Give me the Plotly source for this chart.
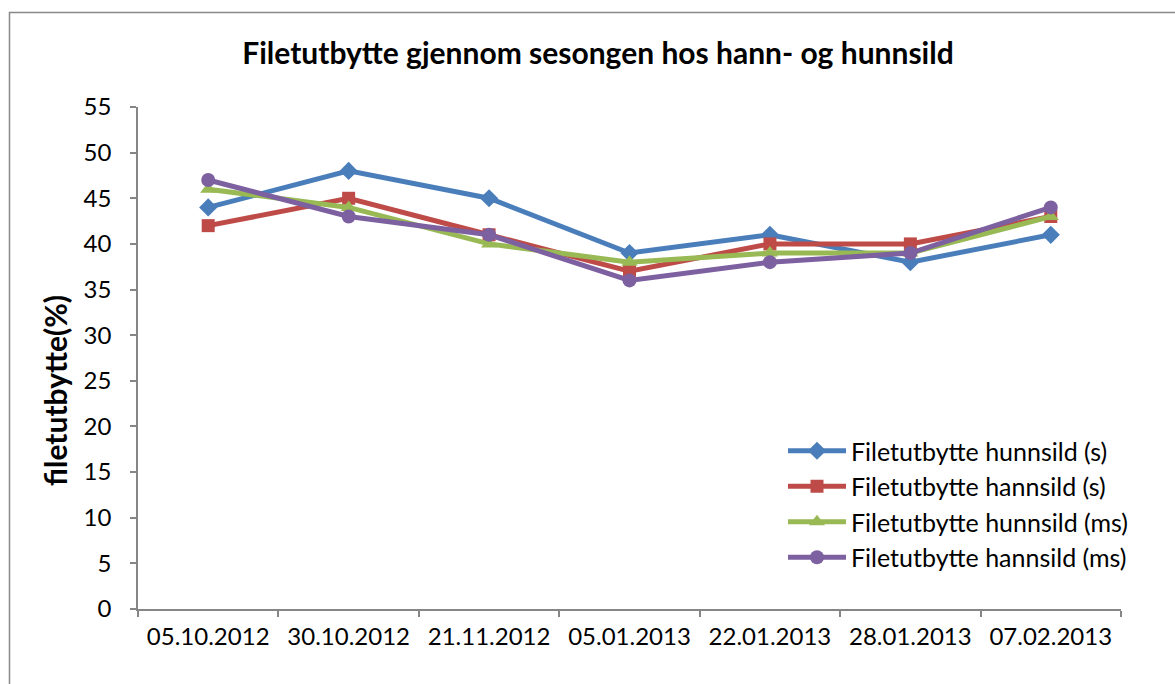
import plotly.graph_objects as go

categories = ["05.10.2012", "30.10.2012", "21.11.2012", "05.01.2013", "22.01.2013", "28.01.2013", "07.02.2013"]
hunnsild_s = [44, 48, 45, 39, 41, 38, 41]
hannsild_s = [42, 45, 41, 37, 40, 40, 43]
hunnsild_ms = [46, 44, 40, 38, 39, 39, 43]
hannsild_ms = [47, 43, 41, 36, 38, 39, 44]
y_ticks = list(range(0, 56, 5))

series = [
    ("Filetutbytte hunnsild (s)", hunnsild_s, "#4A7EBB", "diamond", 14),
    ("Filetutbytte hannsild (s)", hannsild_s, "#BE4B48", "square", 13),
    ("Filetutbytte hunnsild (ms)", hunnsild_ms, "#98B954", "triangle-up", 14),
    ("Filetutbytte hannsild (ms)", hannsild_ms, "#7D60A0", "circle", 14),
]

FONT = "Lato"
W, H = 1175, 684
L, R, T, B = 138, 54, 107, 75

fig = go.Figure()
for name, vals, color, sym, size in series:
    fig.add_trace(go.Scatter(
        x=categories, y=vals, name=name, mode="lines+markers",
        line=dict(color=color, width=5),
        marker=dict(symbol=sym, size=size, color=color),
    ))

pw = W - L - R
ph = H - T - B
def px_x(x):
    return (x - L) / pw
def px_y(y):
    return (H - B - y) / ph

fig.add_shape(type="rect", xref="paper", yref="paper",
              x0=px_x(9.5), x1=px_x(1185), y0=px_y(12.5), y1=px_y(700),
              line=dict(color="#898989", width=1.5), fillcolor="rgba(0,0,0,0)", layer="below")

fig.add_annotation(text="<b>filetutbytte(%)</b>", xref="paper", yref="paper",
                   x=px_x(55), y=px_y(391), xanchor="center", yanchor="middle",
                   textangle=-90, showarrow=False, font=dict(size=30, family=FONT, color="black"))

fig.update_layout(
    width=W, height=H,
    margin=dict(l=L, r=R, t=T, b=B),
    paper_bgcolor="white", plot_bgcolor="white",
    font=dict(family=FONT, color="black", size=24),
    title=dict(text="<b>Filetutbytte gjennom sesongen hos hann- og hunnsild</b>",
               x=598 / W, xanchor="center", y=1 - 53 / H, yanchor="middle",
               font=dict(size=30, family=FONT, color="black")),
    xaxis=dict(type="category", range=[-0.5, 6.5], showline=True, linecolor="#868686", linewidth=1.5,
               ticks="outside", tickson="boundaries", ticklen=6, tickcolor="#868686", tickwidth=1.5,
               ticklabelstandoff=5,
               showgrid=False, zeroline=False, tickfont=dict(size=24, family=FONT)),
    yaxis=dict(range=[0, 55], tickvals=y_ticks, showline=True, linecolor="#868686", linewidth=1.5,
               ticks="outside", ticklen=6, tickcolor="#868686", tickwidth=1.5,
               ticklabelstandoff=14,
               showgrid=False, zeroline=False, tickfont=dict(size=24, family=FONT)),
    legend=dict(x=px_x(783), y=px_y(428), xanchor="left", yanchor="top",
                bgcolor="rgba(0,0,0,0)", font=dict(size=25, family=FONT),
                tracegroupgap=0, itemwidth=58),
    showlegend=True,
)

fig.write_html("out.html", config={"displayModeBar": False},
               post_script="document.body.style.margin='0';")
